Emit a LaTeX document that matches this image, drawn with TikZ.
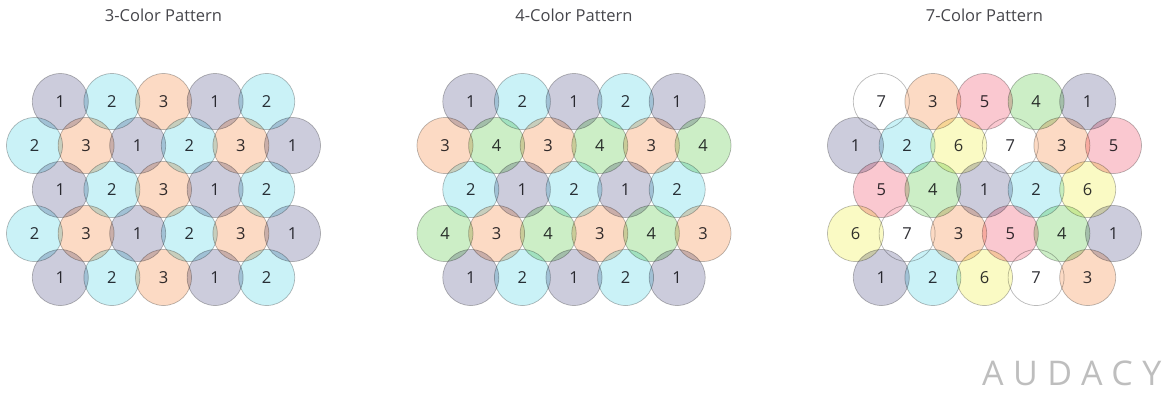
\documentclass[tikz,border=0pt]{standalone}
\usepackage{fontspec}
\setmainfont{Open Sans}
\usetikzlibrary{positioning}

\definecolor{hue1}{RGB}{204,204,220}
\definecolor{hue2}{RGB}{202,242,247}
\definecolor{hue3}{RGB}{252,218,196}
\definecolor{hue4}{RGB}{204,238,198}
\definecolor{hue5}{RGB}{250,200,208}
\definecolor{hue6}{RGB}{250,250,196}
\definecolor{hue7}{RGB}{255,255,255}
\definecolor{numtext}{RGB}{50,50,55}
\definecolor{logogray}{RGB}{190,190,190}

\tikzset{
  cell/.style={circle, minimum size=56pt, inner sep=0pt, draw=black!27,
    line width=0.7pt, text=numtext, font=\fontsize{16.5}{16.5}\selectfont},
  c1/.style={cell, fill=hue1},
  c2/.style={cell, fill=hue2},
  c3/.style={cell, fill=hue3},
  c4/.style={cell, fill=hue4},
  c5/.style={cell, fill=hue5},
  c6/.style={cell, fill=hue6},
  c7/.style={cell, fill=hue7},
  heading/.style={anchor=base, text=numtext!90, font=\fontsize{16.5}{18}\selectfont},
}

% one row of cells: panel, first x, y, row, colours
\newcommand{\cellrow}[5]{%
  \foreach \n [count=\k] in {#5}
    \node[c\n] (#1-#4-\k) at ({#2+(\k-1)*51.6},#3) {\n};%
}

\begin{document}
\begin{tikzpicture}[x=1pt,y=-1pt]
  \useasboundingbox (0,0) rectangle (1173,392);

  % Titles
  \node[heading] (ttlA) at (163.5,21.5) {3-Color Pattern};
  \node[heading] (ttlB) at (574,21.5) {4-Color Pattern};
  \node[heading] (ttlC) at (984.5,21.5) {7-Color Pattern};

  \begin{scope}[blend mode=multiply]
    % 3-colour pattern
    \cellrow{A}{60.3}{101.5}{1}{1,2,3,1,2}
    \cellrow{A}{34.5}{145.5}{2}{2,3,1,2,3,1}
    \cellrow{A}{60.3}{189.5}{3}{1,2,3,1,2}
    \cellrow{A}{34.5}{233.5}{4}{2,3,1,2,3,1}
    \cellrow{A}{60.3}{277.5}{5}{1,2,3,1,2}

    % 4-colour pattern
    \cellrow{B}{470.8}{101.5}{1}{1,2,1,2,1}
    \cellrow{B}{445.0}{145.5}{2}{3,4,3,4,3,4}
    \cellrow{B}{470.8}{189.5}{3}{2,1,2,1,2}
    \cellrow{B}{445.0}{233.5}{4}{4,3,4,3,4,3}
    \cellrow{B}{470.8}{277.5}{5}{1,2,1,2,1}

    % 7-colour pattern
    \cellrow{C}{881.3}{101.5}{1}{7,3,5,4,1}
    \cellrow{C}{855.5}{145.5}{2}{1,2,6,7,3,5}
    \cellrow{C}{881.3}{189.5}{3}{5,4,1,2,6}
    \cellrow{C}{855.5}{233.5}{4}{6,7,3,5,4,1}
    \cellrow{C}{881.3}{277.5}{5}{1,2,6,7,3}
  \end{scope}

  % Logo
  \node[anchor=base west, inner sep=0pt, text=logogray,
    font=\fontsize{34}{34}\selectfont\addfontfeatures{LetterSpace=28}]
    (logo) at (982,385) {AUDACY};
\end{tikzpicture}
\end{document}
